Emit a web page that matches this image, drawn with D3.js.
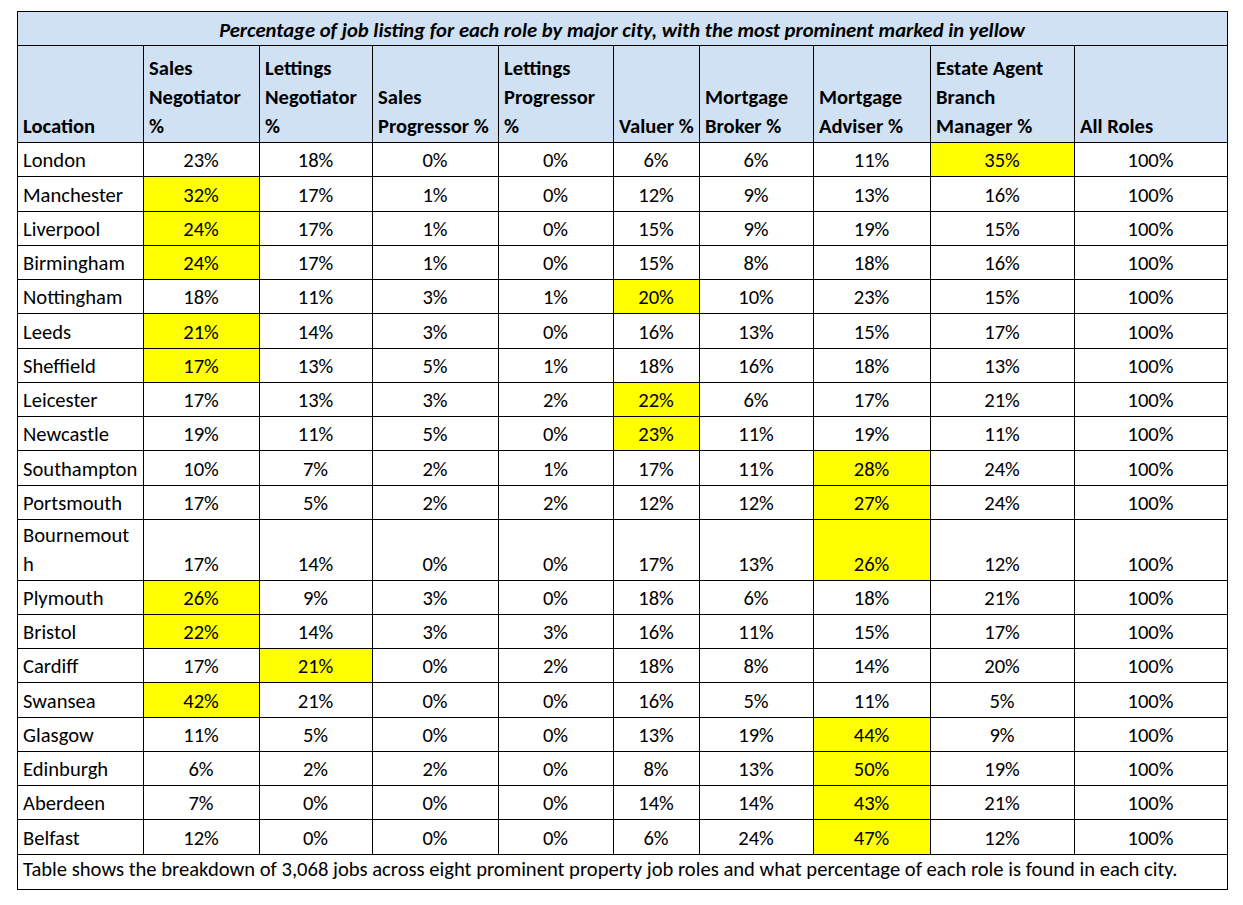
<!DOCTYPE html>
<html><head><meta charset="utf-8">
<script src="https://cdn.jsdelivr.net/npm/d3@7"></script>
<style>
body{margin:0;background:#fff}
svg{display:block}
text{font-family:Calibri,Carlito,Lato,sans-serif;fill:#000}
</style>
</head><body>
<svg id="chart" width="1243" height="905"></svg>
<script>
// ---------- data ----------
const title = "Percentage of job listing for each role by major city, with the most prominent marked in yellow";
const footnote = "Table shows the breakdown of 3,068 jobs across eight prominent property job roles and what percentage of each role is found in each city.";
const headerLabels = [
  ["Location"],
  ["Sales", "Negotiator", "%"],
  ["Lettings", "Negotiator", "%"],
  ["Sales", "Progressor %"],
  ["Lettings", "Progressor", "%"],
  ["Valuer %"],
  ["Mortgage", "Broker %"],
  ["Mortgage", "Adviser %"],
  ["Estate Agent", "Branch", "Manager %"],
  ["All Roles"]
];
const locations = ["London","Manchester","Liverpool","Birmingham","Nottingham","Leeds","Sheffield","Leicester","Newcastle","Southampton","Portsmouth","Bournemouth","Plymouth","Bristol","Cardiff","Swansea","Glasgow","Edinburgh","Aberdeen","Belfast"];
const salesNegotiator  = [23,32,24,24,18,21,17,17,19,10,17,17,26,22,17,42,11,6,7,12];
const lettingsNegotiator = [18,17,17,17,11,14,13,13,11,7,5,14,9,14,21,21,5,2,0,0];
const salesProgressor  = [0,1,1,1,3,3,5,3,5,2,2,0,3,3,0,0,0,2,0,0];
const lettingsProgressor = [0,0,0,0,1,0,1,2,0,1,2,0,0,3,2,0,0,0,0,0];
const valuer           = [6,12,15,15,20,16,18,22,23,17,12,17,18,16,18,16,13,8,14,6];
const mortgageBroker   = [6,9,9,8,10,13,16,6,11,11,12,13,6,11,8,5,19,13,14,24];
const mortgageAdviser  = [11,13,19,18,23,15,18,17,19,28,27,26,18,15,14,11,44,50,43,47];
const branchManager    = [35,16,15,16,15,17,13,21,11,24,24,12,21,17,20,5,9,19,21,12];
const allRoles         = [100,100,100,100,100,100,100,100,100,100,100,100,100,100,100,100,100,100,100,100];
// column (1 = Sales Negotiator ... 8 = Branch Manager) marked in yellow for each city
const highlighted      = [8,1,1,1,5,1,1,5,5,7,7,7,1,1,2,1,7,7,7,7];
// label wrapping as in the original (city name broken inside the narrow column)
const wrappedLocation  = {"Bournemouth": ["Bournemout", "h"]};

// ---------- layout ----------
const series = [salesNegotiator, lettingsNegotiator, salesProgressor, lettingsProgressor, valuer, mortgageBroker, mortgageAdviser, branchManager, allRoles];
const colEdges = [17,143,259,372,498,613,699,813,930,1074,1227];
const tableTop = 11, titleH = 34, headerH = 97, rowH = 34.25, lineH = 29, footH = 35;
const pad = 6, fs = 20.6;
const headerFill = "#CFE1F3", markFill = "#FFFF00";

const svg = d3.select("#chart");
const x = d3.scaleOrdinal().domain(d3.range(colEdges.length)).range(colEdges);
const colW = i => x(i + 1) - x(i);

const rowLines = locations.map(l => wrappedLocation[l] || [l]);
const rowHeights = rowLines.map(ls => rowH + (ls.length - 1) * (lineH - 2.5));
const bodyTop = tableTop + titleH + headerH;
const rowTops = [bodyTop, ...d3.cumsum(rowHeights).map(v => bodyTop + v)];
const y = d3.scaleOrdinal().domain(d3.range(rowTops.length)).range(rowTops);
const tableRight = x(colEdges.length - 1);
const fmt = d => d3.format("d")(d) + "%";

const g = svg.append("g");
const crisp = v => Math.round(v) + 0.5;

// title row
g.append("rect").attr("x", crisp(x(0))).attr("y", crisp(tableTop))
  .attr("width", Math.round(tableRight - x(0))).attr("height", Math.round(titleH))
  .attr("fill", headerFill).attr("stroke", "#000");
g.append("text").attr("x", (x(0) + tableRight) / 2).attr("y", tableTop + titleH - 8)
  .attr("text-anchor", "middle").attr("font-size", fs).attr("font-weight", "bold")
  .attr("font-style", "italic").text(title);

// header row
const hTop = tableTop + titleH;
const header = g.selectAll("g.hdr").data(headerLabels).join("g").attr("class", "hdr");
header.append("rect")
  .attr("x", (d, i) => crisp(x(i))).attr("y", crisp(hTop))
  .attr("width", (d, i) => Math.round(colW(i))).attr("height", Math.round(headerH))
  .attr("fill", headerFill).attr("stroke", "#000");
header.each(function(lines, i) {
  const n = lines.length;
  d3.select(this).selectAll("text").data(lines).join("text")
    .attr("x", x(i) + pad)
    .attr("y", (d, k) => hTop + headerH - 9 - (n - 1 - k) * lineH)
    .attr("font-size", fs).attr("font-weight", "bold").text(d => d);
});

// body rows
const rows = g.selectAll("g.row").data(locations).join("g").attr("class", "row");
rows.each(function(loc, r) {
  const top = y(r), h = y(r + 1) - y(r);
  const rg = d3.select(this);
  const cells = [loc, ...series.map(s => s[r])];
  cells.forEach((v, c) => {
    rg.append("rect").attr("x", crisp(x(c))).attr("y", crisp(top))
      .attr("width", Math.round(colW(c))).attr("height", Math.round(y(r + 1)) - Math.round(top))
      .attr("fill", c === highlighted[r] ? markFill : "#fff").attr("stroke", "#000");
  });
  const lines = rowLines[r];
  rg.selectAll("text.loc").data(lines).join("text").attr("class", "loc")
    .attr("x", x(0) + pad)
    .attr("y", (d, k) => top + h - 9 - (lines.length - 1 - k) * lineH)
    .attr("font-size", fs).text(d => d);
  rg.selectAll("text.val").data(series.map(s => s[r])).join("text").attr("class", "val")
    .attr("x", (d, k) => x(k + 1) + colW(k + 1) / 2)
    .attr("y", top + h - 9)
    .attr("text-anchor", "middle").attr("font-size", fs).text(fmt);
});

// footnote row
const fTop = y(locations.length);
g.append("rect").attr("x", crisp(x(0))).attr("y", crisp(fTop))
  .attr("width", Math.round(tableRight - x(0))).attr("height", Math.round(footH))
  .attr("fill", "#fff").attr("stroke", "#000");
g.append("text").attr("x", x(0) + pad).attr("y", fTop + footH - 13)
  .attr("font-size", fs).text(footnote);
</script>
</body></html>
